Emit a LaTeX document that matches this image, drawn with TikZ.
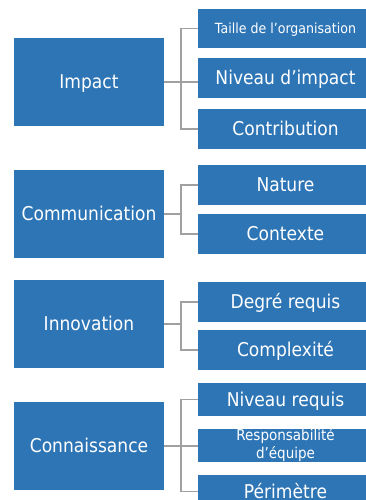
\documentclass[tikz,border=0pt]{standalone}
\usepackage{fontspec}
\setmainfont{DejaVu Sans}[FakeStretch=0.9]
\usepackage{tikz}

\definecolor{boxblue}{RGB}{46,117,182}
\definecolor{linkgray}{RGB}{160,160,160}

\tikzset{
  mainbox/.style={rectangle, fill=boxblue, text=white, inner sep=0pt,
    minimum width=150pt, minimum height=88pt,
    font=\fontsize{19}{23}\selectfont, text height=13.9pt, text depth=0pt},
  subbox/.style={rectangle, fill=boxblue, text=white, inner sep=0pt,
    minimum width=175pt, minimum height=40pt,
    font=\fontsize{19}{23}\selectfont, text height=13.9pt, text depth=0pt},
  link/.style={draw=linkgray, line width=1.5pt},
}

\begin{document}
\begin{tikzpicture}[x=1pt,y=-1pt]
    \useasboundingbox (0,0) rectangle (365,500);

    % 左侧主框
    \node[mainbox] (impact) at (89,82) {Impact};
    \node[mainbox] (comm) at (89,214) {Communication};
    \node[mainbox] (innov) at (89,324) {Innovation};
    \node[mainbox] (conn) at (89,446) {Connaissance};

    % 右侧子框
    \node[subbox, minimum height=39pt, font=\fontsize{14}{17}\selectfont,
          text height=10.2pt] (taille) at (285.5,28.5) {Taille de l’organisation};
    \node[subbox] (nivimp) at (285.5,78) {Niveau d’impact};
    \node[subbox] (contrib) at (285.5,129) {Contribution};

    \node[subbox] (nature) at (285.5,185) {Nature};
    \node[subbox] (contexte) at (285.5,234) {Contexte};

    \node[subbox] (degre) at (285.5,302) {Degré requis};
    \node[subbox] (complex) at (285.5,350) {Complexité};

    \node[subbox, minimum height=33pt] (nivreq) at (285.5,399.5) {Niveau requis};
    \node[subbox, minimum height=33pt, font=\fontsize{15}{18}\selectfont,
          align=center, text height={}, text depth={}] (resp) at (285.5,445.5)
          {Responsabilité\\d’équipe};
    \node[subbox, minimum height=33pt] (perim) at (285.5,491.5) {Périmètre};

    % 连线
    \coordinate (b1) at (181,82);
    \draw[link] (impact.east) -- (b1);
    \draw[link] (b1) |- (taille.west);
    \draw[link] (b1) -- (b1 -| nivimp.west);
    \draw[link] (b1) |- (contrib.west);

    \coordinate (b2) at (181,214);
    \draw[link] (comm.east) -- (b2);
    \draw[link] (b2) |- (nature.west);
    \draw[link] (b2) |- (contexte.west);

    \coordinate (b3) at (181,324);
    \draw[link] (innov.east) -- (b3);
    \draw[link] (b3) |- (degre.west);
    \draw[link] (b3) |- (complex.west);

    \coordinate (b4) at (181,446);
    \draw[link] (conn.east) -- (b4);
    \draw[link] (b4) |- (nivreq.west);
    \draw[link] (b4) -- (b4 -| resp.west);
    \draw[link] (b4) |- (perim.west);
\end{tikzpicture}
\end{document}
